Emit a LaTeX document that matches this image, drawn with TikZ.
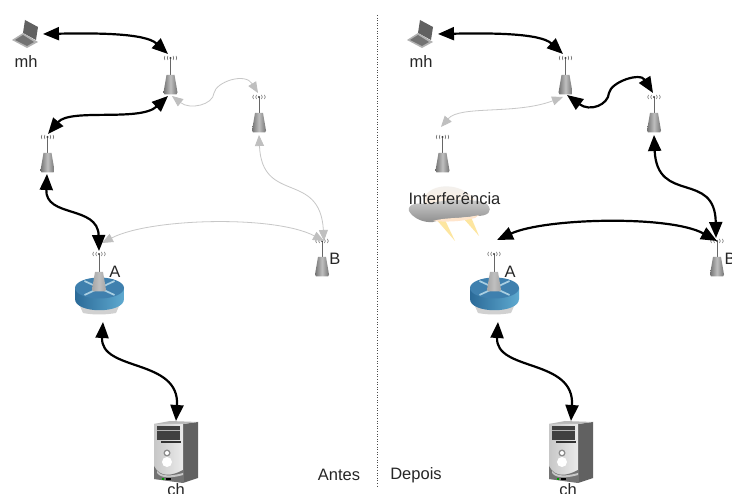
\documentclass[tikz,border=0pt]{standalone}
\usepackage{fontspec}
\setmainfont{Liberation Sans}
\usetikzlibrary{arrows.meta}
\definecolor{rtop}{HTML}{3F80AE}
\definecolor{rdark}{HTML}{2B6A98}
\definecolor{rlight}{HTML}{5FAAD0}
\definecolor{rarrow}{HTML}{A9CFE2}
\tikzset{
  lbl/.style={inner sep=0pt,font=\fontsize{16.5}{18}\selectfont,text=black!85},
  blk/.style={line width=2.2pt,black,{Triangle[length=16pt,width=13pt]}-{Triangle[length=16pt,width=13pt]}},
  gry/.style={line width=0.8pt,black!22,{Triangle[length=11pt,width=9pt,black!25]}-{Triangle[length=11pt,width=9pt,black!25]}},
}
% \towerat{name}{x}{antenna y}{body top y}{lightness}
\newcommand{\towerat}[5]{%
  \coordinate (#1) at (#2,#3);
  \draw[line width=0.7pt,black!60] (#2,#3) -- (#2,#4);
  \shade[left color=black!#5,right color=black!#5,middle color=black!25]
    ({#2-4},#4) -- ({#2+4},#4) -- ({#2+7},{#4+17.5}) -- ({#2+6},{#4+19.5}) -- ({#2-6},{#4+19.5}) -- ({#2-7},{#4+17.5}) -- cycle;
  \fill[black!75] (#2,#3) circle (1.1pt);
  \foreach \s/\d in {-1/2.5,1/2.5,-1/5.5,1/5.5}
    \draw[line width=0.5pt,black!70] ({#2+\s*\d},{#3-2}) .. controls ({#2+\s*(\d+1)},{#3-0.7}) and ({#2+\s*(\d+1)},{#3+0.7}) .. ({#2+\s*\d},{#3+2});
}
\newcommand{\laptop}{%
  \fill[black!62] (25,20) -- (38,27) -- (36,40) -- (23,33) -- cycle;
  \fill[black!30] (12,40) -- (23,33) -- (38,42) -- (27,48) -- cycle;
  \fill[black!55] (15,40) -- (23,35) -- (34,42) -- (27,46) -- cycle;
}
\newcommand{\router}{%
  \fill[black!18] (79,304) -- (120,304) -- (116,313) .. controls (105,315) and (93,315) .. (83,313) -- cycle;
  \shade[left color=rdark,right color=rlight]
    (75,288) -- (75,299) .. controls (75,314) and (124,314) .. (124,299) -- (124,288) -- cycle;
  \fill[rtop] (99.5,288) ellipse (24.5 and 10.5);
  \foreach \dx/\dy in {-15/-7,15/-7,-15/7,15/7}
    \draw[line width=1.7pt,rarrow] (99.5,288) -- ++(\dx,\dy);
}
\newcommand{\server}{%
  \fill[black!62] (183,424) -- (198,422) -- (198,478) -- (183,483) -- cycle;
  \fill[black!28] (154,424) -- (170,421) -- (198,422) -- (183,424) -- cycle;
  \shade[left color=black!22,right color=black!8] (154,424) -- (183,424) -- (183,483) -- (154,479) -- cycle;
  \fill[black!75] (157,426) -- (180,426) -- (180,440) -- (157,440) -- cycle;
  \fill[black!30] (157,430) rectangle (180,431);
  \fill[black!80] (161,441) rectangle (181,443);
  \fill[black!45] (167,453) circle (3.5);
  \fill[white] (167,453) circle (2);
  \fill[white] (167,462) circle (5);
  \fill[black!55] (154,466) .. controls (160,478) and (172,476) .. (183,470) -- (183,483) -- (154,479) -- cycle;
  \fill[black!22] (157,471) .. controls (162,477) and (172,476) .. (183,473) -- (183,475) .. controls (172,478) and (162,479) .. (157,473) -- cycle;
  \fill[green!60!black] (162,478) rectangle (164,480);
  \fill[black] (166,478) rectangle (171,480);
}
\begin{document}
\begin{tikzpicture}[x=1pt,y=-1pt]
\useasboundingbox (0,0) rectangle (732,494);
\fill[white] (0,0) rectangle (732,494);
\coordinate (divtop) at (377,15);
\coordinate (divbot) at (377,487);
\draw[line width=0.6pt,black!70,dotted] (divtop) -- (divbot);
% ---------- LEFT ----------
\laptop
\router
\server
\towerat{la}{99}{254}{272}{35}
\towerat{lt1}{170.5}{58}{75}{55}
\towerat{lt2}{47.5}{137}{153}{55}
\towerat{lt3}{259}{97}{113}{55}
\towerat{lb}{322}{241}{257}{55}
\coordinate (lmh) at (43,34);
\coordinate (lt1a) at (168,54);
\coordinate (lt1b) at (168,96);
\coordinate (lt1g) at (172,96);
\coordinate (lt2a) at (48,134);
\coordinate (lt2b) at (47,174);
\coordinate (laa) at (99,251);
\coordinate (lag) at (102,243);
\coordinate (lab) at (103,322);
\coordinate (lsv) at (176,421);
\coordinate (lt3a) at (258,93);
\coordinate (lt3b) at (259,135);
\coordinate (lba) at (324,241);
\draw[gry] (lt1g) .. controls (190,110) and (213,105) .. (214,93)
   .. controls (216,82) and (245,72) .. (lt3a);
\draw[gry] (lt3b) .. controls (262,205) and (320,170) .. (lba);
\draw[gry] (lag) .. controls (150,218) and (275,215) .. (lba);
\draw[blk] (lmh) .. controls (95,33) and (145,33) .. (lt1a);
\draw[blk] (lt1b) .. controls (140,122) and (70,108) .. (lt2a);
\draw[blk] (lt2b) .. controls (45,218) and (98,205) .. (laa);
\draw[blk] (lab) .. controls (100,372) and (180,358) .. (lsv);
\node[lbl] (lmhl) at (26,62) {mh};
\node[lbl] (lal) at (115,272) {A};
\node[lbl] (lbl) at (335,259) {B};
\node[lbl] (lchl) at (176,490) {ch};
\node[lbl] (antes) at (339,475) {Antes};
% ---------- RIGHT ----------
\begin{scope}[xshift=395pt]
\laptop
\router
\server
\towerat{ra}{99}{254}{272}{35}
\towerat{rt1}{170.5}{58}{75}{55}
\towerat{rt2}{47.5}{137}{153}{55}
\towerat{rt3}{259}{97}{113}{55}
\towerat{rb}{322}{241}{257}{55}
\coordinate (rmh) at (43,34);
\coordinate (rt1a) at (168,54);
\coordinate (rt1b) at (172,95);
\coordinate (rt1g) at (168,97);
\coordinate (rt2a) at (46,127);
\coordinate (raa) at (102,240);
\coordinate (rab) at (103,322);
\coordinate (rsv) at (176,421);
\coordinate (rt3a) at (258,93);
\coordinate (rt3b) at (259,135);
\coordinate (rba) at (322,241);
\coordinate (rbb) at (321,238);
% cloud
\shade[top color=black!6,bottom color=orange!12] (30,196) .. controls (38,183) and (66,182) .. (80,200) -- (30,205) -- cycle;
\fill[yellow!50!orange!35] (40,218) -- (60,241) -- (50,220) -- cycle;
\fill[yellow!50!orange!35] (68,218) -- (84,236) -- (76,217) -- cycle;
\shade[top color=black!18,bottom color=black!45]
  (14,211) .. controls (12,203) and (24,203) .. (32,204) .. controls (50,199) and (82,198) .. (92,204)
  .. controls (99,212) and (92,216) .. (82,216) .. controls (60,219) and (50,218) .. (38,222)
  .. controls (28,223) and (18,218) .. (14,211) -- cycle;
\fill[orange!20] (38,221) .. controls (50,217) and (70,219) .. (84,215) -- (80,218) .. controls (65,222) and (50,222) .. (38,221) -- cycle;
\draw[gry] (rt1g) .. controls (120,115) and (65,105) .. (rt2a);
\draw[blk] (rmh) .. controls (95,33) and (145,33) .. (rt1a);
\draw[blk] (rt1b) .. controls (195,112) and (213,105) .. (214,93)
   .. controls (216,82) and (245,72) .. (rt3a);
\draw[blk] (rt3b) .. controls (262,205) and (320,170) .. (rbb);
\draw[blk] (raa) .. controls (150,218) and (275,215) .. (rba);
\draw[blk] (rab) .. controls (100,372) and (180,358) .. (rsv);
\node[lbl] (rmhl) at (26,62) {mh};
\node[lbl] (ral) at (115,272) {A};
\node[lbl] (rbl) at (335,259) {B};
\node[lbl] (rchl) at (173,490) {ch};
\node[lbl] (inter) at (59.5,199) {Interferência};
\node[lbl] (depois) at (21,475) {Depois};
\end{scope}
\end{tikzpicture}
\end{document}
